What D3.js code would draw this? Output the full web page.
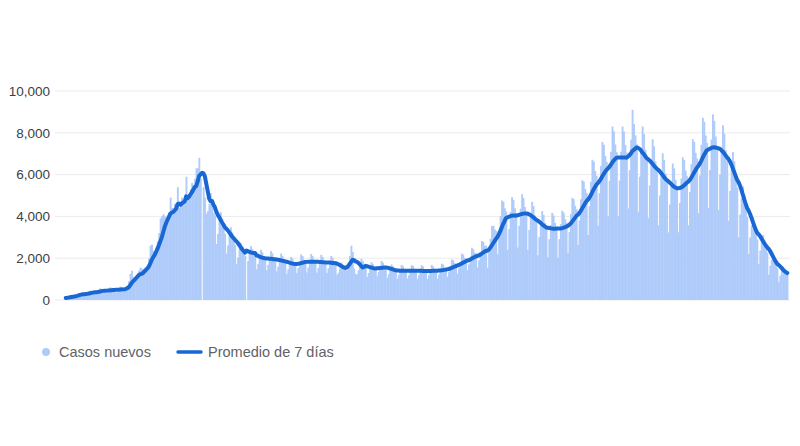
<!DOCTYPE html>
<html>
<head>
<meta charset="utf-8">
<script src="https://cdn.jsdelivr.net/npm/d3@7"></script>
<style>
  html, body { margin: 0; padding: 0; background: #ffffff; }
  svg { display: block; font-family: "Liberation Sans", Arial, sans-serif; }
</style>
</head>
<body>
<svg id="chart" width="800" height="446"></svg>
<script>
// Daily new cases (null = day with no report)
const dailyCases = [
  100, 110, 130, 180, 200, 220, 230,
  200, 220, 290, 340, 320, 300, 290,
  260, 280, 380, 450, 420, 400, 370,
  320, 340, 460, 560, 520, 480, 440,
  330, 360, 500, 610, 560, 530, 490,
  360, 380, 530, 640, 600, 560, 540,
  500, 600, 900, 1250, 1400, 1100, 1000,
  1050, 1150, 1400, 1550, 1500, 1450, 1550,
  1500, 1700, 2000, 2600, 2650, 2350, 2300,
  2500, 2800, 3200, 3900, 4000, 4100, 4000,
  3800, 3900, 4200, 4900, 4400, 4300, 4600,
  4300, 5400, 4400, 4500, 4900, 4600, 5000,
  5900, 4800, 4900, 5300, 5600, 5500, 5800,
  6300, 6300, 6800, 5800, null, 5400, 4900,
  4130, 4250, 4590, 5120, 4750, 4180, 4040,
  2680, 3160, 3790, 4200, 3900, 3440, 3170,
  2210, 2610, 3140, 3480, 3230, 2860, 2640,
  1710, 2030, 2450, 2740, 2560, 2280, 2120,
  null, 1860, 2280, 2580, 2450, 2220, 2090,
  1470, 1720, 2010, 2400, 2280, 2070, 2020,
  1430, 1680, 1960, 2340, 2230, 2020, 1970,
  1370, 1600, 1870, 2220, 2110, 1910, 1860,
  1240, 1470, 1720, 2060, 1980, 1800, 1770,
  1290, 1530, 1810, 2180, 2100, 1930, 1900,
  1320, 1560, 1830, 2200, 2100, 1920, 1880,
  1310, 1540, 1810, 2160, 2060, 1880, 1840,
  1300, 1520, 1770, 2110, 2010, 1820, 1770,
  1200, 1300, 1500, 1800, 1700, 1600, 1640,
  1400, 1800, 2100, 2600, 2300, 1500, 1250,
  1230, 1430, 1660, 1970, 1860, 1670, 1620,
  1100, 1290, 1520, 1810, 1730, 1570, 1540,
  1140, 1340, 1570, 1870, 1790, 1630, 1590,
  1050, 1230, 1430, 1700, 1620, 1470, 1430,
  1010, 1190, 1400, 1680, 1610, 1470, 1440,
  1020, 1180, 1410, 1670, 1620, 1460, 1440,
  1000, 1180, 1390, 1670, 1600, 1460, 1430,
  1000, 1180, 1400, 1680, 1610, 1480, 1450,
  1010, 1210, 1430, 1740, 1690, 1560, 1540,
  1100, 1330, 1590, 1940, 1900, 1760, 1760,
  1260, 1520, 1820, 2220, 2170, 2010, 2010,
  1420, 1710, 2040, 2500, 2430, 2260, 2250,
  1560, 1900, 2290, 2820, 2770, 2590, 2600,
  1540, 2280, 2930, 3540, 3550, 3370, 3300,
  2190, 3180, 4010, 4760, 4700, 4390, 4230,
  2390, 3390, 4210, 4920, 4780, 4390, 4170,
  2510, 3550, 4370, 5060, 4880, 4450, 4190,
  2400, 3350, 4090, 4700, 4490, 4050, 3780,
  2140, 3010, 3690, 4250, 4070, 3690, 3450,
  2050, 2910, 3590, 4170, 4040, 3690, 3490,
  2030, 2910, 3630, 4270, 4180, 3870, 3700,
  2250, 3250, 4110, 4880, 4820, 4510, 4340,
  2630, 3810, 4820, 5730, 5670, 5310, 5120,
  3110, 4490, 5660, 6710, 6620, 6170, 5940,
  3550, 5110, 6410, 7560, 7430, 6900, 6610,
  4000, 5710, 7090, 8300, 8070, 7440, 7070,
  4020, 5720, 7100, 8300, 8070, 7420, 7050,
  4380, 6210, 7670, 9100, 8420, 7880, 7450,
  4210, 5900, 7210, 8300, 7940, 7190, 6720,
  3920, 5480, 6690, 7690, 7350, 6640, 6200,
  3570, 5000, 6110, 7020, 6700, 6060, 5660,
  3230, 4570, 5630, 6530, 6300, 5750, 5420,
  3240, 4640, 5810, 6830, 6690, 6190, 5920,
  3580, 5170, 6500, 7690, 7560, 7040, 6770,
  4160, 5960, 7430, 8720, 8520, 7870, 7510,
  4410, 6220, 7670, 8880, 8570, 7820, 7360,
  4300, 6000, 7300, 8360, 7960, 7170, 6660,
  3790, 5220, 6270, 7080, 6640, 5890, 5390,
  3000, 4090, 4860, 5430, 5040, 4410, 3980,
  2190, 2990, 3560, 3970, 3670, 3220, 2900,
  1720, 2350, 2790, 3110, 2880, 2520, 2270,
  1210, 1640, 1930, 2140, 1960, 1700, 1510,
  850, 1170, 1410, 1590, 1490, 1320, 1200
];
const yTicks = [0, 2000, 4000, 6000, 8000, 10000];
const yMax = 10000;
const legendLabels = ["Casos nuevos", "Promedio de 7 días"];
const windowDays = 7;

const colors = { bar: "#aecbfa", line: "#1967d2", grid: "#ebebeb", axisText: "#3c4043", legendText: "#5f6368" };

const svg = d3.select("#chart");
const margin = { left: 65, right: 12, top: 91, bottom: 146 };
const W = 800, H = 446;

const days = d3.range(dailyCases.length);
const x = d3.scaleBand().domain(days).range([margin.left, W - margin.right]).padding(0);
const y = d3.scaleLinear().domain([0, yMax]).range([H - margin.bottom, margin.top]);

// gridlines + labels
const yAxis = d3.axisLeft(y).tickValues(yTicks).tickFormat(d3.format(",")).tickSize(0).tickPadding(0);
const gAxis = svg.append("g").attr("transform", "translate(50,0)").call(yAxis);
gAxis.select(".domain").remove();
gAxis.selectAll("text").attr("fill", colors.axisText).attr("font-size", 13.5)
  .attr("font-family", "Liberation Sans, Arial, sans-serif");

svg.append("g").selectAll("line").data(yTicks).join("line")
  .attr("x1", 55).attr("x2", 790)
  .attr("y1", d => y(d)).attr("y2", d => y(d))
  .attr("stroke", colors.grid).attr("stroke-width", 1);

// bars
const barData = days.map(i => ({ i, v: dailyCases[i] })).filter(d => d.v !== null);
svg.append("g").selectAll("rect").data(barData).join("rect")
  .attr("x", d => x(d.i))
  .attr("width", x.bandwidth() + 0.45)
  .attr("y", d => y(d.v))
  .attr("height", d => y(0) - y(d.v))
  .attr("fill", colors.bar);

// 7-day trailing average
const avgData = days.map(i => {
  const win = dailyCases.slice(Math.max(0, i - windowDays + 1), i + 1).filter(v => v !== null);
  return { i, v: d3.mean(win) };
});
const line = d3.line()
  .x(d => x(d.i) + x.bandwidth() / 2)
  .y(d => y(d.v))
  .curve(d3.curveLinear);
svg.append("path").datum(avgData)
  .attr("d", line)
  .attr("fill", "none")
  .attr("stroke", colors.line)
  .attr("stroke-width", 4)
  .attr("stroke-linejoin", "round")
  .attr("stroke-linecap", "round");

// legend
const lg = svg.append("g").attr("font-size", 14.5).attr("fill", colors.legendText);
lg.append("circle").attr("cx", 46).attr("cy", 352).attr("r", 4).attr("fill", colors.bar);
lg.append("text").attr("x", 59).attr("y", 352).attr("dy", "0.35em").text(legendLabels[0]);
lg.append("line").attr("x1", 178).attr("x2", 201).attr("y1", 352).attr("y2", 352)
  .attr("stroke", colors.line).attr("stroke-width", 3.5).attr("stroke-linecap", "round");
lg.append("text").attr("x", 208).attr("y", 352).attr("dy", "0.35em").text(legendLabels[1]);
</script>
</body>
</html>
